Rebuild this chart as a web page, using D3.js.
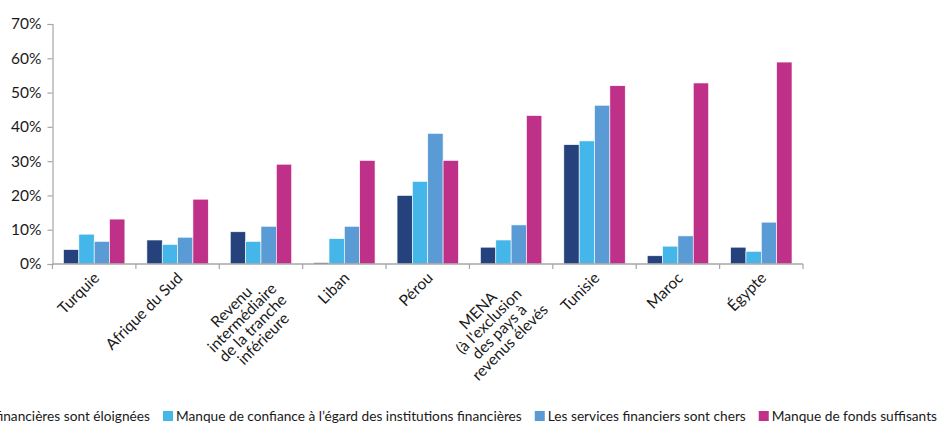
<!DOCTYPE html>
<html>
<head>
<meta charset="utf-8">
<script src="https://cdn.jsdelivr.net/npm/d3@7"></script>
<style>
  html, body { margin: 0; padding: 0; background: #fff; }
  svg { display: block; }
  text { font-family: "Lato", "Open Sans", sans-serif; fill: #1a1a1a; }
</style>
</head>
<body>
<svg id="chart" width="939" height="426"></svg>
<script>
const categories = [
  ["Turquie"],
  ["Afrique du Sud"],
  ["Revenu", "intermédiaire", "de la tranche", "inférieure"],
  ["Liban"],
  ["Pérou"],
  ["MENA", "(à l'exclusion", "des pays à", "revenus élevés"],
  ["Tunisie"],
  ["Maroc"],
  ["Égypte"]
];
const seriesNames = [
  "Les institutions financières sont éloignées",
  "Manque de confiance à l’égard des institutions financières",
  "Les services financiers sont chers",
  "Manque de fonds suffisants"
];
const eloignees  = [4.2, 7.0, 9.4, 0.4, 20.0, 4.9, 34.8, 2.4, 4.9];
const confiance  = [8.7, 5.7, 6.6, 7.4, 24.1, 7.0, 35.9, 5.2, 3.7];
const chers      = [6.6, 7.8, 11.0, 11.0, 38.1, 11.4, 46.3, 8.2, 12.2];
const fonds      = [13.1, 18.9, 29.1, 30.2, 30.2, 43.3, 52.0, 52.8, 58.9];
const yTicks = [0, 10, 20, 30, 40, 50, 60, 70];
const colors = ["#26427c", "#45b6e9", "#5b9bd5", "#bf3189"];

const series = [eloignees, confiance, chers, fonds];
const svg = d3.select("#chart");

const x0 = d3.scaleBand().domain(d3.range(categories.length)).range([52.5, 803]).paddingInner(0.264).paddingOuter(0.132);
const x1 = d3.scaleBand().domain(d3.range(series.length)).range([0, x0.bandwidth()]).padding(0);
const y = d3.scaleLinear().domain([0, 70]).range([264, 24]);

// bars
const groups = svg.append("g").selectAll("g").data(categories).join("g")
  .attr("transform", (d, i) => `translate(${x0(i)},0)`);
groups.selectAll("rect").data((d, i) => series.map((s, k) => ({k, v: s[i]}))).join("rect")
  .attr("x", d => x1(d.k))
  .attr("width", x1.bandwidth())
  .attr("y", d => y(d.v))
  .attr("height", d => y(0) - y(d.v))
  .attr("fill", d => colors[d.k])
  .attr("stroke", "#fff")
  .attr("stroke-width", 0.6);

// y axis
const yAxis = d3.axisLeft(y).tickValues(yTicks).tickFormat(d => d + "%").tickSize(5).tickPadding(6);
const yg = svg.append("g").attr("transform", "translate(52.5,0)").call(yAxis);
yg.select(".domain").attr("stroke", "#a6a6a6").attr("stroke-width", 1.2);
yg.selectAll(".tick line").attr("stroke", "#a6a6a6").attr("stroke-width", 1.2);
yg.selectAll(".tick text").style("font-size", "15.5px").style("font-family", "Lato, sans-serif").attr("fill", "#1a1a1a");

// x axis baseline with boundary ticks
const xg = svg.append("g");
xg.append("line").attr("x1", 52.5).attr("x2", 803).attr("y1", y(0)).attr("y2", y(0))
  .attr("stroke", "#a6a6a6").attr("stroke-width", 1.5);
const bounds = d3.range(categories.length + 1).map(i => 52.5 + i * x0.step());
xg.selectAll("line.tk").data(bounds).join("line").attr("class", "tk")
  .attr("x1", d => d).attr("x2", d => d).attr("y1", y(0)).attr("y2", y(0) + 5)
  .attr("stroke", "#a6a6a6").attr("stroke-width", 1.2);

// category labels (rotated, multi-line centered)
const lh = 15;
categories.forEach((lines, i) => {
  const cx = x0(i) + x0.bandwidth() / 2;
  const g = svg.append("g").attr("transform", `translate(${cx + 6},279) rotate(-45)`);
  const texts = lines.map((l, j) => g.append("text").text(l).style("font-size", "15.5px").attr("y", j * lh));
  const maxW = d3.max(texts, t => t.node().getComputedTextLength());
  texts.forEach(t => t.attr("x", -maxW / 2).attr("text-anchor", "middle"));
});

// legend (laid out from the right edge, first item runs off the left edge as in the reference)
const lg = svg.append("g").attr("transform", "translate(0,421)");
const items = seriesNames.map((name, k) => {
  const g = lg.append("g");
  g.append("rect").attr("y", -10).attr("width", 10).attr("height", 10).attr("fill", colors[k]);
  const t = g.append("text").attr("x", 13).text(name).style("font-size", "13.7px");
  return {g, w: 13 + t.node().getComputedTextLength()};
});
const gap = 13;
let xs = [];
xs[3] = 937 - items[3].w;
for (let k = 2; k >= 0; k--) xs[k] = xs[k + 1] - gap - items[k].w;
items.forEach((it, k) => it.g.attr("transform", `translate(${xs[k]},0)`));
</script>
</body>
</html>
